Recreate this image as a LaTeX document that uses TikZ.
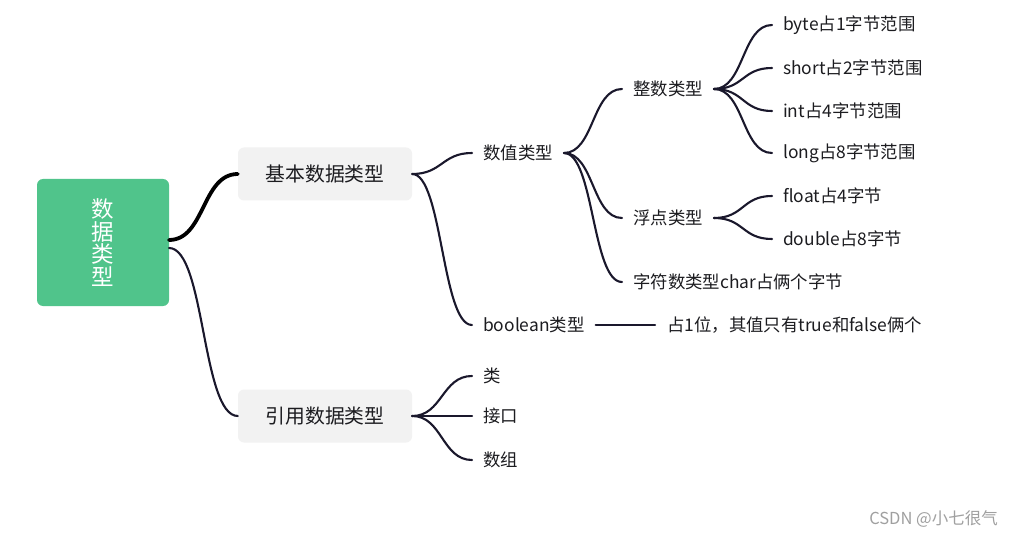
\documentclass[tikz,border=0pt]{standalone}
\usepackage{fontspec}
\setmainfont{Noto Sans CJK SC}
\definecolor{lc}{RGB}{26,24,44}
\definecolor{tc}{RGB}{28,28,32}
\definecolor{rootgreen}{RGB}{80,196,139}
\definecolor{boxgrey}{RGB}{242,242,242}
\definecolor{wm}{RGB}{160,160,160}
\begin{document}
\begin{tikzpicture}[x=1pt,y=-1pt,
  conn/.style={draw=lc, line width=2.1pt, line cap=round},
  thickconn/.style={draw=black, line width=3.8pt, line cap=round},
  leaf/.style={inner xsep=11pt, inner ysep=2pt, anchor=west, font=\fontsize{17.4}{20}\selectfont, text=tc},
  catbox/.style={fill=boxgrey, rounded corners=6pt, minimum width=174pt, minimum height=53pt, inner sep=0pt, font=\fontsize{19.8}{22}\selectfont, text=tc},
  rootbox/.style={fill=rootgreen, rounded corners=6pt, minimum width=132pt, minimum height=127pt, inner sep=0pt, align=center, font=\fontsize{22.5}{22.4}\selectfont, text=white}
]
\useasboundingbox (0,0) rectangle (1014,537);
\fill[white] (0,0) rectangle (1014,537);

% root and categories
\node[rootbox] (root) at (103,242.5) {数\\据\\类\\型};
\node[catbox] (basic) at (325,174) {基本数据类型};
\node[catbox] (ref) at (325,416) {引用数据类型};
\coordinate (r1) at (169,240);
\coordinate (r2) at (169,248);

% level 2
\node[leaf] (num) at (472,153) {数值类型};
\node[leaf] (bool) at (472,325) {boolean类型};
\node[leaf] (cls) at (472,376) {类};
\node[leaf] (ifc) at (472,416) {接口};
\node[leaf] (arr) at (472,460) {数组};

% level 3
\node[leaf] (int) at (622,89) {整数类型};
\node[leaf] (flt) at (622,218) {浮点类型};
\node[leaf] (chr) at (622,282) {字符数类型char占俩个字节};
\node[leaf, inner xsep=12pt] (bv) at (655,325) {占1位，其值只有true和false俩个};

% level 4
\node[leaf] (byte) at (772,25) {byte占1字节范围};
\node[leaf] (short) at (772,68) {short占2字节范围};
\node[leaf] (intl) at (772,111) {int占4字节范围};
\node[leaf] (long) at (772,153) {long占8字节范围};
\node[leaf] (float) at (772,196) {float占4字节};
\node[leaf] (double) at (772,239) {double占8字节};

% connectors
\draw[thickconn] (r1) .. controls +(36,0) and +(-36,0) .. (basic.west);
\draw[conn] (r2) .. controls +(36,0) and +(-36,0) .. (ref.west);

\draw[conn] (basic.east) .. controls +(30,0) and +(-30,0) .. (num.west);
\draw[conn] (basic.east) .. controls +(30,0) and +(-30,0) .. (bool.west);

\draw[conn] (num.east) .. controls +(30,0) and +(-30,0) .. (int.west);
\draw[conn] (num.east) .. controls +(30,0) and +(-30,0) .. (flt.west);
\draw[conn] (num.east) .. controls +(30,0) and +(-30,0) .. (chr.west);

\draw[conn] (int.east) .. controls +(30,0) and +(-30,0) .. (byte.west);
\draw[conn] (int.east) .. controls +(30,0) and +(-30,0) .. (short.west);
\draw[conn] (int.east) .. controls +(30,0) and +(-30,0) .. (intl.west);
\draw[conn] (int.east) .. controls +(30,0) and +(-30,0) .. (long.west);

\draw[conn] (flt.east) .. controls +(30,0) and +(-30,0) .. (float.west);
\draw[conn] (flt.east) .. controls +(30,0) and +(-30,0) .. (double.west);

\draw[conn] (bool.east) -- (bv.west);

\draw[conn] (ref.east) .. controls +(30,0) and +(-30,0) .. (cls.west);
\draw[conn] (ref.east) -- (ifc.west);
\draw[conn] (ref.east) .. controls +(30,0) and +(-30,0) .. (arr.west);

% watermark
\node[anchor=east, inner sep=0pt, text=wm, font=\fontsize{16.5}{18}\selectfont] (mark) at (998,519) {CSDN @小七很气};
\end{tikzpicture}
\end{document}
